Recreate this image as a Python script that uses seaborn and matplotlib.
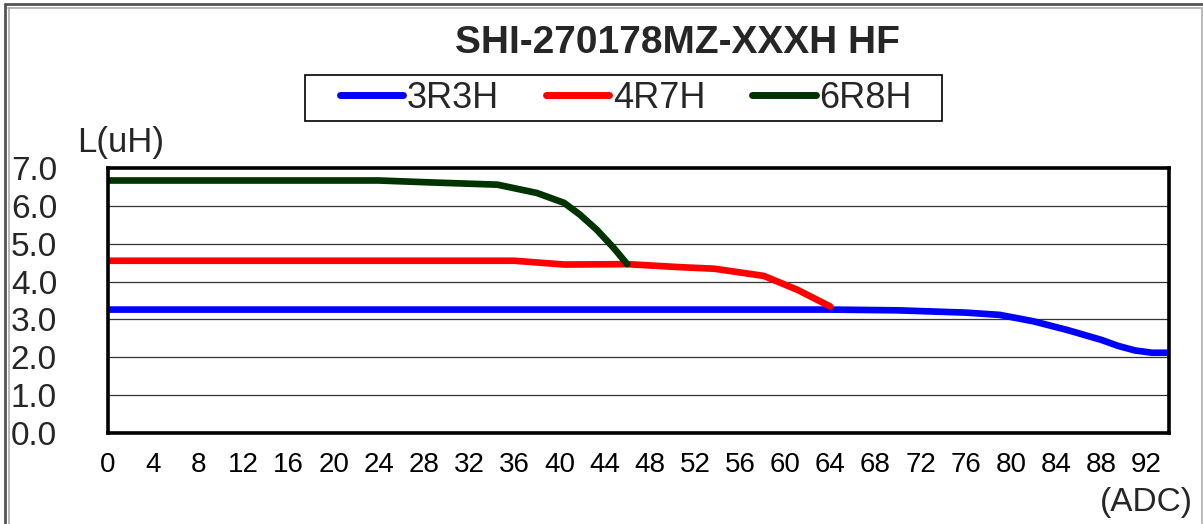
import matplotlib.pyplot as plt
import seaborn as sns
from matplotlib.lines import Line2D
from matplotlib.patches import Rectangle

# inductance vs current
x_3r3h = [0, 64, 70, 76, 79, 82, 85, 88, 89.5, 91, 92.5, 94]
l_3r3h = [3.26, 3.26, 3.24, 3.18, 3.12, 2.95, 2.72, 2.46, 2.30, 2.18, 2.12, 2.12]

x_4r7h = [0, 36, 40.4, 46, 50.7, 53.7, 58.1, 61.1, 64]
l_4r7h = [4.55, 4.55, 4.45, 4.46, 4.38, 4.34, 4.15, 3.78, 3.34]

x_6r8h = [0, 24, 28.5, 34.5, 38, 40.4, 41.8, 43.3, 44.8, 46]
l_6r8h = [6.67, 6.67, 6.62, 6.56, 6.34, 6.08, 5.77, 5.37, 4.89, 4.46]

series_names = ["3R3H", "4R7H", "6R8H"]
series_colors = ["#0000ff", "#ff0000", "#003300"]
x_ticks = list(range(0, 93, 4))
y_ticks = [0, 1, 2, 3, 4, 5, 6, 7]

sns.set_style("white")
plt.rcParams['font.family'] = ['Liberation Sans', 'DejaVu Sans']

W, H = 1203, 524
fig = plt.figure(figsize=(W / 100, H / 100), dpi=100)
ax = fig.add_axes([108 / W, 1 - 433 / H, (1169 - 108) / W, (433 - 168) / H])

for xs, ys, name, col in zip([x_3r3h, x_4r7h, x_6r8h], [l_3r3h, l_4r7h, l_6r8h],
                             series_names, series_colors):
    sns.lineplot(x=xs, y=ys, color=col, linewidth=4.8, ax=ax, sort=False,
                 label=name, solid_capstyle="round")

ax.set_xlim(0, 94)
ax.set_ylim(0, 7)
ax.set_xticks(x_ticks)
ax.set_xticklabels([str(t) for t in x_ticks], fontsize=20)
ax.set_yticks(y_ticks)
ax.set_yticklabels([f"{t:.1f}" for t in y_ticks], fontsize=24)
for lab in ax.get_yticklabels():
    lab.set_horizontalalignment("left")
ax.tick_params(axis="x", direction="in", length=7, width=1, pad=14, colors="black")
ax.tick_params(axis="y", length=0, pad=70)
for yv in y_ticks[1:-1]:
    ax.axhline(yv, color="#333333", linewidth=0.9, zorder=0)
for sp in ax.spines.values():
    sp.set_linewidth(2.6)
    sp.set_color("black")
ax.set_xlabel("")
ax.set_ylabel("")

leg = ax.legend(loc="center", bbox_to_anchor=(626 / W, 1 - 98 / H),
                bbox_transform=fig.transFigure, ncol=3, fontsize=26,
                frameon=False, handlelength=1.75, handletextpad=0.1,
                columnspacing=1.3, borderpad=0.2)
for lh in leg.get_lines():
    lh.set_linewidth(5)
# legend box
fig.add_artist(Rectangle((305 / W, 1 - 121 / H), 637 / W, 46 / H,
                         transform=fig.transFigure, fill=False,
                         edgecolor="black", linewidth=1.2))

fig.text(677 / W, 1 - 43 / H, "SHI-270178MZ-XXXH HF", fontsize=28,
         fontweight="bold", ha="center", va="center")
fig.text(77 / W, 1 - 143 / H, "L(uH)", fontsize=25, ha="left", va="center")
fig.text(1193 / W, 1 - 502 / H, "(ADC)", fontsize=24, ha="right", va="center")

# outer chart-area frame
def px_line(xs, ys, col, lw):
    fig.add_artist(Line2D([v / W for v in xs], [1 - v / H for v in ys],
                          transform=fig.transFigure, color=col, linewidth=lw))

px_line([5, 1203], [4, 4], "#555555", 2)
px_line([8, 1201], [7.5, 7.5], "#aaaaaa", 1.2)
px_line([5, 5], [4, 524], "#555555", 2)
px_line([8.5, 8.5], [7.5, 524], "#aaaaaa", 1.2)
px_line([1201.5, 1201.5], [7.5, 524], "#bbbbbb", 1.5)

fig.savefig("out.png", dpi=100)
